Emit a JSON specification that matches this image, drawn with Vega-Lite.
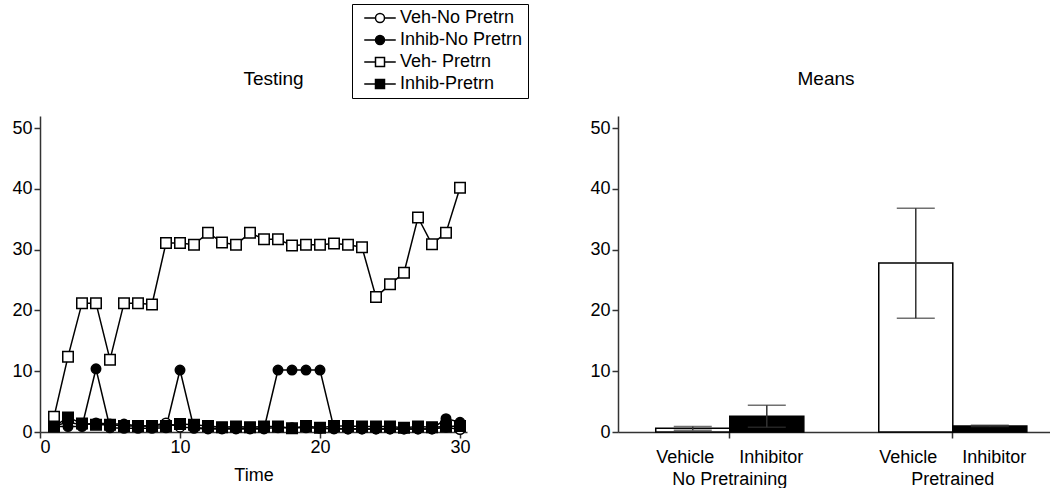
{
  "$schema": "https://vega.github.io/schema/vega-lite/v6.json",
  "padding": {"left": 11, "top": 3, "right": 0, "bottom": 0},
  "config": {
    "view": {"stroke": null},
    "font": "Liberation Sans",
    "axis": {"domainColor": "#333", "tickColor": "#333", "domainWidth": 1.5, "tickWidth": 1.5, "tickSize": 6, "labelPadding": 2, "labelFont": "Liberation Sans", "labelFontSize": 18, "labelColor": "black", "titleFont": "Liberation Sans", "titleFontSize": 18, "titleFontWeight": "normal", "titleColor": "black", "grid": false},
    "title": {"font": "Liberation Sans", "fontSize": 19, "fontWeight": "normal", "color": "black", "frame": "group", "baseline": "alphabetic"}
  },
  "datasets": {
    "ts": [
      {"t":1,"s":"Veh-No Pretrn","v":1.0},{"t":2,"s":"Veh-No Pretrn","v":1.6},{"t":3,"s":"Veh-No Pretrn","v":1.2},{"t":4,"s":"Veh-No Pretrn","v":1.5},{"t":5,"s":"Veh-No Pretrn","v":1.3},{"t":6,"s":"Veh-No Pretrn","v":1.3},{"t":7,"s":"Veh-No Pretrn","v":1.0},{"t":8,"s":"Veh-No Pretrn","v":1.0},{"t":9,"s":"Veh-No Pretrn","v":1.5},{"t":10,"s":"Veh-No Pretrn","v":0.8},
      {"t":11,"s":"Veh-No Pretrn","v":0.7},{"t":12,"s":"Veh-No Pretrn","v":0.6},{"t":13,"s":"Veh-No Pretrn","v":0.6},{"t":14,"s":"Veh-No Pretrn","v":0.6},{"t":15,"s":"Veh-No Pretrn","v":0.6},{"t":16,"s":"Veh-No Pretrn","v":0.6},{"t":17,"s":"Veh-No Pretrn","v":0.7},{"t":18,"s":"Veh-No Pretrn","v":0.7},{"t":19,"s":"Veh-No Pretrn","v":0.7},{"t":20,"s":"Veh-No Pretrn","v":0.6},
      {"t":21,"s":"Veh-No Pretrn","v":0.5},{"t":22,"s":"Veh-No Pretrn","v":0.5},{"t":23,"s":"Veh-No Pretrn","v":0.5},{"t":24,"s":"Veh-No Pretrn","v":0.5},{"t":25,"s":"Veh-No Pretrn","v":0.5},{"t":26,"s":"Veh-No Pretrn","v":0.5},{"t":27,"s":"Veh-No Pretrn","v":0.5},{"t":28,"s":"Veh-No Pretrn","v":0.5},{"t":29,"s":"Veh-No Pretrn","v":0.8},{"t":30,"s":"Veh-No Pretrn","v":0.4},
      {"t":1,"s":"Inhib-No Pretrn","v":0.9},{"t":2,"s":"Inhib-No Pretrn","v":0.9},{"t":3,"s":"Inhib-No Pretrn","v":0.9},{"t":4,"s":"Inhib-No Pretrn","v":10.4},{"t":5,"s":"Inhib-No Pretrn","v":0.7},{"t":6,"s":"Inhib-No Pretrn","v":0.6},{"t":7,"s":"Inhib-No Pretrn","v":0.6},{"t":8,"s":"Inhib-No Pretrn","v":0.6},{"t":9,"s":"Inhib-No Pretrn","v":0.7},{"t":10,"s":"Inhib-No Pretrn","v":10.2},
      {"t":11,"s":"Inhib-No Pretrn","v":0.6},{"t":12,"s":"Inhib-No Pretrn","v":0.5},{"t":13,"s":"Inhib-No Pretrn","v":0.5},{"t":14,"s":"Inhib-No Pretrn","v":0.5},{"t":15,"s":"Inhib-No Pretrn","v":0.5},{"t":16,"s":"Inhib-No Pretrn","v":0.5},{"t":17,"s":"Inhib-No Pretrn","v":10.2},{"t":18,"s":"Inhib-No Pretrn","v":10.2},{"t":19,"s":"Inhib-No Pretrn","v":10.2},{"t":20,"s":"Inhib-No Pretrn","v":10.2},
      {"t":21,"s":"Inhib-No Pretrn","v":0.6},{"t":22,"s":"Inhib-No Pretrn","v":0.5},{"t":23,"s":"Inhib-No Pretrn","v":0.5},{"t":24,"s":"Inhib-No Pretrn","v":0.5},{"t":25,"s":"Inhib-No Pretrn","v":0.5},{"t":26,"s":"Inhib-No Pretrn","v":0.5},{"t":27,"s":"Inhib-No Pretrn","v":0.5},{"t":28,"s":"Inhib-No Pretrn","v":0.5},{"t":29,"s":"Inhib-No Pretrn","v":2.2},{"t":30,"s":"Inhib-No Pretrn","v":1.6},
      {"t":1,"s":"Veh- Pretrn","v":2.5},{"t":2,"s":"Veh- Pretrn","v":12.4},{"t":3,"s":"Veh- Pretrn","v":21.2},{"t":4,"s":"Veh- Pretrn","v":21.2},{"t":5,"s":"Veh- Pretrn","v":11.9},{"t":6,"s":"Veh- Pretrn","v":21.2},{"t":7,"s":"Veh- Pretrn","v":21.2},{"t":8,"s":"Veh- Pretrn","v":21.0},{"t":9,"s":"Veh- Pretrn","v":31.1},{"t":10,"s":"Veh- Pretrn","v":31.1},
      {"t":11,"s":"Veh- Pretrn","v":30.8},{"t":12,"s":"Veh- Pretrn","v":32.8},{"t":13,"s":"Veh- Pretrn","v":31.2},{"t":14,"s":"Veh- Pretrn","v":30.8},{"t":15,"s":"Veh- Pretrn","v":32.8},{"t":16,"s":"Veh- Pretrn","v":31.7},{"t":17,"s":"Veh- Pretrn","v":31.7},{"t":18,"s":"Veh- Pretrn","v":30.7},{"t":19,"s":"Veh- Pretrn","v":30.8},{"t":20,"s":"Veh- Pretrn","v":30.8},
      {"t":21,"s":"Veh- Pretrn","v":31.0},{"t":22,"s":"Veh- Pretrn","v":30.8},{"t":23,"s":"Veh- Pretrn","v":30.4},{"t":24,"s":"Veh- Pretrn","v":22.2},{"t":25,"s":"Veh- Pretrn","v":24.3},{"t":26,"s":"Veh- Pretrn","v":26.2},{"t":27,"s":"Veh- Pretrn","v":35.3},{"t":28,"s":"Veh- Pretrn","v":30.9},{"t":29,"s":"Veh- Pretrn","v":32.8},{"t":30,"s":"Veh- Pretrn","v":40.2},
      {"t":1,"s":"Inhib-Pretrn","v":0.9},{"t":2,"s":"Inhib-Pretrn","v":2.4},{"t":3,"s":"Inhib-Pretrn","v":1.4},{"t":4,"s":"Inhib-Pretrn","v":1.2},{"t":5,"s":"Inhib-Pretrn","v":1.2},{"t":6,"s":"Inhib-Pretrn","v":1.0},{"t":7,"s":"Inhib-Pretrn","v":1.0},{"t":8,"s":"Inhib-Pretrn","v":1.0},{"t":9,"s":"Inhib-Pretrn","v":1.0},{"t":10,"s":"Inhib-Pretrn","v":1.3},
      {"t":11,"s":"Inhib-Pretrn","v":1.2},{"t":12,"s":"Inhib-Pretrn","v":1.0},{"t":13,"s":"Inhib-Pretrn","v":0.8},{"t":14,"s":"Inhib-Pretrn","v":0.9},{"t":15,"s":"Inhib-Pretrn","v":0.8},{"t":16,"s":"Inhib-Pretrn","v":0.9},{"t":17,"s":"Inhib-Pretrn","v":0.9},{"t":18,"s":"Inhib-Pretrn","v":0.6},{"t":19,"s":"Inhib-Pretrn","v":1.0},{"t":20,"s":"Inhib-Pretrn","v":0.7},
      {"t":21,"s":"Inhib-Pretrn","v":1.0},{"t":22,"s":"Inhib-Pretrn","v":1.0},{"t":23,"s":"Inhib-Pretrn","v":0.9},{"t":24,"s":"Inhib-Pretrn","v":0.9},{"t":25,"s":"Inhib-Pretrn","v":0.9},{"t":26,"s":"Inhib-Pretrn","v":0.7},{"t":27,"s":"Inhib-Pretrn","v":0.9},{"t":28,"s":"Inhib-Pretrn","v":0.8},{"t":29,"s":"Inhib-Pretrn","v":0.9},{"t":30,"s":"Inhib-Pretrn","v":1.0}
    ],
    "means": [
      {"group":"No Pretraining","treatment":"Vehicle","mean":0.6,"lo":0.3,"hi":0.9},
      {"group":"No Pretraining","treatment":"Inhibitor","mean":2.6,"lo":0.8,"hi":4.4},
      {"group":"Pretrained","treatment":"Vehicle","mean":27.8,"lo":18.7,"hi":36.8},
      {"group":"Pretrained","treatment":"Inhibitor","mean":1.0,"lo":0.9,"hi":1.1}
    ]
  },
  "spacing": 118,
  "hconcat": [
    {
      "width": 427,
      "height": 316,
      "title": {"text": "Testing", "dx": 20, "offset": 27},
      "data": {"name": "ts"},
      "encoding": {
        "x": {"field": "t", "type": "quantitative", "scale": {"domain": [0, 30.5], "nice": false, "zero": false}, "axis": {"values": [0, 10, 20, 30], "title": "Time", "titlePadding": 10, "labelPadding": 0}},
        "y": {"field": "v", "type": "quantitative", "scale": {"domain": [0, 52], "nice": false}, "axis": {"values": [0, 10, 20, 30, 40, 50], "title": null}}
      },
      "layer": [
        {"mark": {"type": "line", "color": "black", "strokeWidth": 1.5}, "encoding": {"detail": {"field": "s"}}},
        {"transform": [{"filter": "datum.s == 'Veh-No Pretrn'"}], "mark": {"type": "point", "shape": "circle", "filled": true, "fill": "white", "stroke": "black", "strokeWidth": 1.5, "size": 90, "opacity": 1}},
        {"transform": [{"filter": "datum.s == 'Inhib-No Pretrn'"}], "mark": {"type": "point", "shape": "circle", "filled": true, "fill": "black", "stroke": "black", "strokeWidth": 1.5, "size": 90, "opacity": 1}},
        {"transform": [{"filter": "datum.s == 'Veh- Pretrn'"}], "mark": {"type": "point", "shape": "square", "filled": true, "fill": "white", "stroke": "black", "strokeWidth": 1.5, "size": 110, "opacity": 1}},
        {"transform": [{"filter": "datum.s == 'Inhib-Pretrn'"}], "mark": {"type": "point", "shape": "square", "filled": true, "fill": "black", "stroke": "black", "strokeWidth": 1.5, "size": 110, "opacity": 1}},
        {
          "transform": [{"filter": "datum.t > 1000"}],
          "mark": {"type": "point", "filled": true, "stroke": "black", "strokeWidth": 1.5, "size": 81, "opacity": 1},
          "encoding": {
            "stroke": {"value": "black"},
            "shape": {"field": "s", "type": "nominal", "scale": {"domain": ["Veh-No Pretrn", "Inhib-No Pretrn", "Veh- Pretrn", "Inhib-Pretrn"], "range": ["M-3.5,0H-1M1,0H3.5M-1,0A1,1,0,1,0,1,0A1,1,0,1,0,-1,0Z", "M-3.5,0H-1M1,0H3.5M-1,0A1,1,0,1,0,1,0A1,1,0,1,0,-1,0Z", "M-3.5,0H-1M1,0H3.5M-1,-1H1V1H-1Z", "M-3.5,0H-1M1,0H3.5M-1,-1H1V1H-1Z"]},
              "legend": {"title": null, "orient": "none", "legendX": 312, "legendY": -112, "strokeColor": "black", "fillColor": "white", "padding": 5, "rowPadding": 4, "symbolSize": 81, "symbolStrokeWidth": 1.5, "symbolOpacity": 1, "symbolOffset": 14, "labelOffset": 11, "labelFontSize": 18, "labelFont": "Liberation Sans", "labelColor": "black"}},
            "fill": {"field": "s", "type": "nominal", "scale": {"domain": ["Veh-No Pretrn", "Inhib-No Pretrn", "Veh- Pretrn", "Inhib-Pretrn"], "range": ["white", "black", "white", "black"]},
              "legend": {"title": null, "orient": "none", "legendX": 312, "legendY": -112, "strokeColor": "black", "fillColor": "white", "padding": 5, "rowPadding": 4, "symbolSize": 81, "symbolStrokeWidth": 1.5, "symbolOpacity": 1, "symbolOffset": 14, "labelOffset": 11, "labelFontSize": 18, "labelFont": "Liberation Sans", "labelColor": "black"}}
          }
        }
      ]
    },
    {
      "width": 434,
      "height": 316,
      "title": {"text": "Means", "dx": -9, "offset": 27},
      "data": {"name": "means"},
      "encoding": {
        "x": {"field": "group", "type": "nominal", "scale": {"domain": ["No Pretraining", "Pretrained"], "paddingInner": 0.336, "paddingOuter": 0.141, "align": 0.6},
          "axis": {"title": null, "labelAngle": 0, "labelExpr": "['\u00a0\u00a0Vehicle\u00a0\u00a0\u00a0\u00a0\u00a0Inhibitor', datum.value]", "labelLineHeight": 22, "labelPadding": 10, "labelBaseline": "top"}},
        "xOffset": {"field": "treatment", "type": "nominal", "scale": {"domain": ["Vehicle", "Inhibitor"], "paddingInner": 0, "paddingOuter": 0}},
        "y": {"field": "mean", "type": "quantitative", "scale": {"domain": [0, 52], "nice": false}, "axis": {"values": [0, 10, 20, 30, 40, 50], "title": null}}
      },
      "layer": [
        {"transform": [{"filter": "datum.treatment == 'Vehicle'"}], "mark": {"type": "bar", "fill": "white", "stroke": "black", "strokeWidth": 1.5}},
        {"transform": [{"filter": "datum.treatment == 'Inhibitor'"}], "mark": {"type": "bar", "fill": "black", "stroke": "black", "strokeWidth": 1.5}},
        {"mark": {"type": "rule", "color": "#333", "strokeWidth": 1.5}, "encoding": {"y": {"field": "lo", "type": "quantitative"}, "y2": {"field": "hi"}}},
        {"mark": {"type": "tick", "orient": "horizontal", "color": "#333", "thickness": 1.5, "size": 38}, "encoding": {"y": {"field": "hi", "type": "quantitative"}}},
        {"mark": {"type": "tick", "orient": "horizontal", "color": "#333", "thickness": 1.5, "size": 38}, "encoding": {"y": {"field": "lo", "type": "quantitative"}}}
      ]
    }
  ]
}
